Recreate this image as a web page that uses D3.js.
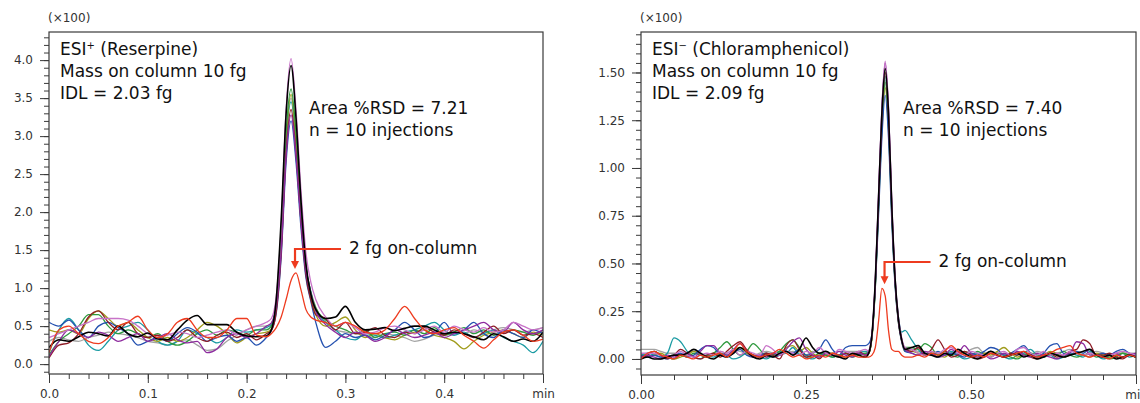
<!DOCTYPE html>
<html><head><meta charset="utf-8">
<script src="https://cdn.jsdelivr.net/npm/d3@7"></script>
<style>body{margin:0;background:#fff} svg{display:block} text{font-family:"DejaVu Sans",sans-serif}</style>
</head><body><svg id="c" width="1140" height="403"></svg>
<script>
// ---------- ESI+ (Reserpine) panel data ----------
const timePos = [0,.01,.02,.03,.04,.05,.06,.07,.08,.09,.10,.11,.12,.13,.14,.15,.16,.17,.18,.19,.20,.21,.22,
 .225,.23,.235,.24,.245,.25,.255,.26,.265,.27,
 .28,.29,.30,.31,.32,.33,.34,.35,.36,.37,.38,.39,.40,.41,.42,.43,.44,.45,.46,.47,.48,.49,.50];
const posGray = [0.30,0.35,0.32,0.30,0.35,0.38,0.42,0.40,0.38,0.35,0.30,0.28,0.25,0.30,0.32,0.25,0.18,0.20,0.30,0.38,0.45,0.50,0.50,
 0.54,0.79,1.58,2.92,3.50,2.92,2.00,1.29,0.96,0.75,
 0.55,0.45,0.42,0.40,0.38,0.35,0.40,0.38,0.35,0.30,0.33,0.38,0.40,0.42,0.40,0.45,0.42,0.45,0.48,0.45,0.42,0.45,0.48];
const posTeal = [0.15,0.45,0.60,0.45,0.25,0.18,0.30,0.45,0.50,0.55,0.45,0.30,0.25,0.30,0.45,0.40,0.35,0.28,0.35,0.45,0.42,0.45,0.48,
 0.52,0.78,1.57,2.94,3.45,2.94,2.00,1.28,0.95,0.70,
 0.55,0.45,0.35,0.32,0.40,0.38,0.35,0.38,0.42,0.45,0.50,0.55,0.45,0.38,0.42,0.35,0.40,0.45,0.35,0.30,0.25,0.15,0.30];
const posOlive = [0.45,0.42,0.45,0.40,0.60,0.70,0.60,0.50,0.55,0.45,0.35,0.30,0.35,0.30,0.35,0.45,0.55,0.50,0.40,0.28,0.35,0.40,0.42,
 0.46,0.72,1.55,2.94,3.55,2.94,1.98,1.25,0.90,0.65,
 0.50,0.55,0.62,0.45,0.35,0.40,0.35,0.32,0.38,0.42,0.45,0.38,0.35,0.30,0.20,0.30,0.38,0.42,0.45,0.40,0.35,0.42,0.38];
const posGreen = [0.12,0.30,0.40,0.50,0.65,0.65,0.50,0.40,0.45,0.40,0.35,0.40,0.30,0.25,0.30,0.40,0.45,0.38,0.45,0.42,0.38,0.45,0.45,
 0.50,0.76,1.61,3.04,3.62,3.04,2.06,1.30,0.94,0.74,
 0.58,0.50,0.45,0.40,0.45,0.35,0.40,0.42,0.38,0.45,0.40,0.48,0.38,0.42,0.48,0.40,0.45,0.38,0.42,0.45,0.42,0.38,0.45];
const posBlue = [0.55,0.50,0.58,0.45,0.35,0.50,0.55,0.48,0.40,0.25,0.30,0.35,0.30,0.40,0.48,0.42,0.30,0.35,0.38,0.30,0.35,0.25,0.35,
 0.44,0.67,1.41,2.66,3.20,2.66,1.80,1.14,0.83,0.55,
 0.22,0.30,0.40,0.35,0.38,0.32,0.38,0.45,0.55,0.45,0.35,0.40,0.55,0.40,0.45,0.55,0.40,0.35,0.45,0.40,0.35,0.45,0.40];
const posMaroon = [0.08,0.25,0.28,0.40,0.62,0.70,0.55,0.45,0.55,0.40,0.35,0.38,0.30,0.35,0.45,0.35,0.30,0.38,0.42,0.35,0.40,0.32,0.40,
 0.44,0.69,1.46,2.78,3.35,2.78,1.88,1.18,0.85,0.65,
 0.60,0.45,0.55,0.40,0.42,0.48,0.38,0.35,0.42,0.40,0.48,0.42,0.38,0.45,0.40,0.35,0.42,0.50,0.40,0.45,0.38,0.40,0.35];
const posPurple = [0.10,0.30,0.45,0.40,0.35,0.42,0.38,0.30,0.35,0.40,0.30,0.35,0.40,0.32,0.28,0.30,0.15,0.20,0.35,0.40,0.35,0.40,0.50,
 0.54,0.77,1.50,2.74,3.28,2.74,1.89,1.23,0.93,0.70,
 0.52,0.42,0.35,0.42,0.38,0.30,0.35,0.45,0.40,0.35,0.38,0.42,0.35,0.40,0.45,0.50,0.55,0.45,0.42,0.55,0.45,0.40,0.45];
const posOrchid = [0.35,0.40,0.45,0.50,0.55,0.60,0.60,0.60,0.58,0.50,0.40,0.35,0.38,0.42,0.40,0.35,0.38,0.42,0.45,0.40,0.45,0.50,0.55,
 0.60,0.89,1.80,3.35,4.02,3.35,2.29,1.47,1.08,0.85,
 0.62,0.50,0.55,0.48,0.40,0.42,0.48,0.50,0.45,0.40,0.45,0.50,0.42,0.50,0.45,0.42,0.48,0.42,0.45,0.55,0.50,0.45,0.48];
const posBlack = [0.22,0.32,0.30,0.36,0.42,0.40,0.37,0.50,0.40,0.36,0.41,0.33,0.32,0.45,0.58,0.64,0.52,0.52,0.52,0.42,0.37,0.36,0.37,
 0.45,0.85,1.90,3.30,3.93,3.24,2.16,1.32,0.92,0.72,
 0.60,0.62,0.76,0.55,0.45,0.46,0.48,0.44,0.47,0.50,0.50,0.45,0.40,0.42,0.40,0.36,0.32,0.40,0.36,0.30,0.33,0.30,0.42];
const posRed2fg = [0.15,0.45,0.50,0.40,0.30,0.27,0.35,0.50,0.55,0.63,0.45,0.35,0.40,0.55,0.60,0.45,0.35,0.35,0.45,0.60,0.60,0.38,0.36,
 0.40,0.48,0.62,0.85,1.10,1.20,0.98,0.72,0.62,0.58,
 0.55,0.50,0.55,0.50,0.42,0.40,0.45,0.60,0.76,0.60,0.45,0.40,0.45,0.48,0.38,0.30,0.21,0.32,0.42,0.45,0.38,0.30,0.33];

// ---------- ESI- (Chloramphenicol) panel data ----------
const timeNeg = [0,.01,.02,.03,.04,.05,.06,.07,.08,.09,.10,.11,.12,.13,.14,.15,.16,.17,.18,.19,.20,.21,.22,.23,.24,.25,.26,.27,.28,.29,.30,.31,.32,.33,.34,
 .345,.35,.355,.36,.365,.37,.375,.38,.385,.39,.395,.40,
 .41,.42,.43,.44,.45,.46,.47,.48,.49,.50,.51,.52,.53,.54,.55,.56,.57,.58,.59,.60,.61,.62,.63,.64,.65,.66,.67,.68,.69,.70,.71,.72,.73,.74,.75];
const negGray = [0.05,0.05,0.05,0.04,0.03,0.03,0.02,0.03,0.04,0.03,0.02,0.03,0.04,0.03,0.05,0.04,0.03,0.02,0.03,0.04,0.03,0.02,0.03,0.04,0.03,0.02,0.04,0.03,0.04,0.03,0.04,0.04,0.04,0.04,0.04,
 0.04,0.12,0.39,0.81,1.23,1.46,1.23,0.77,0.40,0.20,0.10,0.05,
 0.05,0.04,0.03,0.04,0.03,0.02,0.03,0.04,0.03,0.05,0.06,0.03,0.04,0.03,0.02,0.03,0.04,0.03,0.02,0.04,0.03,0.02,0.03,0.04,0.05,0.03,0.02,0.03,0.04,0.03,0.02,0.03,0.04,0.03,0.03];
const negTeal = [0.02,0.03,0.02,0.01,0.03,0.11,0.09,0.04,0.01,0.00,0.02,0.01,0.03,0.02,0.00,0.01,0.03,0.02,0.01,0.00,0.02,0.04,0.03,0.06,0.02,0.01,0.00,0.02,0.03,0.01,0.02,0.03,0.02,0.03,0.04,
 0.03,0.12,0.39,0.82,1.25,1.48,1.25,0.78,0.41,0.22,0.14,0.15,
 0.10,0.05,0.02,0.03,0.01,0.02,0.04,0.02,0.00,0.01,0.03,0.02,0.04,0.02,0.01,0.00,0.02,0.03,0.05,0.02,0.01,0.02,0.00,0.01,0.03,0.02,0.01,0.04,0.02,0.00,0.01,0.02,0.03,0.01,0.02];
const negOlive = [0.02,0.01,0.02,0.03,0.01,0.00,0.01,0.02,0.04,0.02,0.01,0.03,0.02,0.01,0.04,0.06,0.03,0.01,0.02,0.03,0.01,0.02,0.06,0.07,0.04,0.06,0.03,0.01,0.02,0.03,0.02,0.01,0.02,0.03,0.02,
 0.03,0.11,0.37,0.79,1.20,1.42,1.20,0.75,0.39,0.19,0.09,0.04,
 0.04,0.03,0.02,0.04,0.02,0.01,0.03,0.02,0.04,0.02,0.01,0.03,0.02,0.04,0.06,0.03,0.01,0.02,0.03,0.01,0.02,0.04,0.03,0.01,0.02,0.03,0.02,0.01,0.03,0.02,0.01,0.02,0.03,0.02,0.01];
const negGreen = [0.01,0.03,0.04,0.02,0.01,0.00,0.02,0.01,0.03,0.02,0.01,0.03,0.06,0.09,0.05,0.02,0.04,0.08,0.05,0.01,0.02,0.04,0.08,0.10,0.06,0.02,0.01,0.03,0.02,0.01,0.02,0.03,0.01,0.02,0.03,
 0.03,0.12,0.38,0.80,1.22,1.45,1.22,0.76,0.40,0.20,0.10,0.06,
 0.06,0.05,0.08,0.06,0.02,0.04,0.02,0.01,0.03,0.02,0.04,0.02,0.01,0.03,0.02,0.01,0.00,0.02,0.03,0.02,0.01,0.03,0.02,0.04,0.02,0.01,0.02,0.03,0.01,0.02,0.00,0.01,0.03,0.02,0.01];
const negBlue = [0.02,0.01,0.02,0.01,0.00,0.02,0.03,0.01,0.02,0.05,0.07,0.06,0.02,0.01,0.03,0.05,0.02,0.01,0.02,0.03,0.01,0.02,0.04,0.03,0.05,0.02,0.03,0.05,0.10,0.05,0.02,0.06,0.07,0.07,0.07,
 0.08,0.13,0.37,0.76,1.16,1.38,1.16,0.72,0.38,0.19,0.09,0.04,
 0.03,0.02,0.03,0.02,0.04,0.02,0.03,0.02,0.01,0.03,0.02,0.04,0.06,0.05,0.02,0.03,0.05,0.07,0.03,0.01,0.03,0.07,0.08,0.03,0.02,0.04,0.03,0.05,0.02,0.03,0.02,0.04,0.05,0.03,0.02];
const negMaroon = [0.00,0.02,0.04,0.02,0.00,0.02,0.05,0.03,0.01,0.00,0.02,0.03,0.01,0.04,0.07,0.09,0.05,0.02,0.01,0.03,0.02,0.00,0.07,0.10,0.05,0.01,0.02,0.00,0.03,0.02,0.01,0.03,0.02,0.04,0.02,
 0.03,0.12,0.40,0.83,1.27,1.50,1.27,0.79,0.41,0.20,0.10,0.05,
 0.04,0.06,0.02,0.05,0.10,0.05,0.01,0.02,0.04,0.02,0.00,0.01,0.03,0.02,0.01,0.03,0.02,0.04,0.01,0.00,0.02,0.03,0.01,0.02,0.04,0.05,0.10,0.08,0.02,0.02,0.03,0.01,0.00,0.02,0.01];
const negPurple = [0.01,0.02,0.01,0.00,0.02,0.01,0.02,0.03,0.01,0.04,0.07,0.07,0.03,0.02,0.05,0.08,0.04,0.01,0.02,0.01,0.03,0.02,0.05,0.09,0.11,0.05,0.02,0.01,0.03,0.02,0.04,0.02,0.01,0.03,0.02,
 0.04,0.13,0.41,0.86,1.31,1.55,1.31,0.81,0.42,0.21,0.10,0.05,
 0.03,0.02,0.04,0.03,0.01,0.02,0.05,0.03,0.07,0.03,0.01,0.02,0.00,0.01,0.03,0.02,0.04,0.02,0.01,0.03,0.02,0.01,0.00,0.02,0.03,0.09,0.08,0.02,0.02,0.01,0.02,0.03,0.01,0.02,0.03];
const negOrchid = [0.03,0.03,0.03,0.02,0.01,0.02,0.04,0.02,0.01,0.02,0.03,0.02,0.04,0.03,0.05,0.02,0.04,0.03,0.02,0.07,0.05,0.02,0.04,0.03,0.02,0.04,0.03,0.06,0.03,0.02,0.05,0.04,0.03,0.04,0.05,
 0.04,0.13,0.42,0.87,1.32,1.56,1.32,0.82,0.43,0.22,0.11,0.06,
 0.05,0.03,0.02,0.04,0.03,0.05,0.06,0.03,0.02,0.04,0.03,0.02,0.01,0.03,0.04,0.02,0.05,0.06,0.03,0.02,0.04,0.02,0.03,0.02,0.04,0.03,0.02,0.03,0.02,0.01,0.02,0.03,0.04,0.03,0.02];
const negBlack = [0.00,0.01,0.00,0.00,0.01,0.02,0.02,0.03,0.05,0.03,0.01,0.00,0.02,0.01,0.03,0.06,0.04,0.01,0.00,0.02,0.01,0.03,0.04,0.02,0.05,0.11,0.06,0.03,0.04,0.02,0.01,0.00,0.03,0.02,0.01,
 0.03,0.13,0.41,0.85,1.29,1.52,1.29,0.80,0.42,0.21,0.10,0.05,
 0.06,0.07,0.03,0.02,0.01,0.03,0.02,0.05,0.03,0.01,0.00,0.02,0.04,0.02,0.01,0.02,0.03,0.01,0.02,0.00,0.01,0.03,0.02,0.01,0.02,0.03,0.04,0.05,0.02,0.01,0.02,0.00,0.01,0.02,0.01];
const negRed2fg = [0.00,0.03,0.04,0.02,0.01,0.00,0.02,0.01,0.00,0.02,0.01,0.02,0.03,0.01,0.04,0.08,0.04,0.02,0.01,0.02,0.03,0.05,0.03,0.01,0.02,0.00,0.01,0.02,0.01,0.03,0.02,0.01,0.02,0.01,0.01,
 0.01,0.02,0.06,0.20,0.37,0.33,0.15,0.05,0.04,0.04,0.02,0.01,
 0.01,0.02,0.01,0.03,0.02,0.04,0.07,0.04,0.02,0.01,0.02,0.01,0.03,0.02,0.01,0.02,0.03,0.04,0.02,0.01,0.02,0.03,0.05,0.06,0.07,0.03,0.02,0.01,0.02,0.01,0.00,0.02,0.01,0.02,0.01];

// ---------- ticks & labels ----------
const posYMajor = [0,0.5,1,1.5,2,2.5,3,3.5,4];
const posXMajor = [0,0.1,0.2,0.3,0.4,0.5];
const negYMajor = [0,0.25,0.5,0.75,1,1.25,1.5];
const negXMajor = [0,0.25,0.5,0.75];
const posLabels = ["ESI+ (Reserpine)","Mass on column 10 fg","IDL = 2.03 fg"];
const negLabels = ["ESI\u2212 (Chloramphenicol)","Mass on column 10 fg","IDL = 2.09 fg"];
const posRsd = ["Area %RSD = 7.21","n = 10 injections"];
const negRsd = ["Area %RSD = 7.40","n = 10 injections"];
const note2fg = "2 fg on-column";
const posPeak2fg = [0.249, 1.2];
const negPeak2fg = [0.369, 0.37];

const traceColors = {gray:"#a3a3a3",teal:"#1b9ba3",olive:"#a09c1c",green:"#2f9a3e",blue:"#2451b0",
  maroon:"#8e1c26",purple:"#8d2b9e",orchid:"#c873c8",black:"#000000",red:"#ee3b1f"};

const svg = d3.select("#c");
svg.append("rect").attr("width",1140).attr("height",403).attr("fill","#fff");

function panel(o){
  const g = svg.append("g");
  const x = d3.scaleLinear().domain(o.xDom).range([o.left,o.right]);
  const y = d3.scaleLinear().domain(o.yDom).range([o.bottom,o.top]);
  const id = "clip"+o.key;
  svg.append("clipPath").attr("id",id).append("rect")
    .attr("x",o.left).attr("y",o.top).attr("width",o.right-o.left).attr("height",o.bottom-o.top);

  const axCol = "#3a3a3a";
  const yMinor = g.append("g").attr("transform",`translate(${o.left},0)`)
    .call(d3.axisLeft(y).tickValues(o.yMinor).tickSize(5).tickFormat(""));
  const xMinor = g.append("g").attr("transform",`translate(0,${o.bottom})`)
    .call(d3.axisBottom(x).tickValues(o.xMinor).tickSize(5).tickFormat(""));
  const yMaj = g.append("g").attr("transform",`translate(${o.left},0)`)
    .call(d3.axisLeft(y).tickValues(o.yMajor).tickSize(9).tickPadding(7).tickFormat(o.yFmt));
  const xMaj = g.append("g").attr("transform",`translate(0,${o.bottom})`)
    .call(d3.axisBottom(x).tickValues(o.xMajor).tickSize(9).tickPadding(6)
      .tickFormat((d,i)=> i===o.xMajor.length-1 ? "min" : o.xFmt(d)));
  [yMinor,xMinor,yMaj,xMaj].forEach(a=>{
    a.select(".domain").remove();
    a.selectAll("line").attr("stroke",axCol).attr("stroke-width",1);
    a.selectAll("text").attr("fill","#333").style("font-size","12px").style("font-family","'DejaVu Sans',sans-serif");
  });

  // traces
  const line = d3.line().x((d,i)=>x(o.time[i])).y(d=>y(d)).curve(d3.curveMonotoneX);
  const lg = g.append("g").attr("clip-path",`url(#${id})`);
  o.series.forEach(s=>{
    lg.append("path").attr("d",line(s.values)).attr("fill","none")
      .attr("stroke",s.color).attr("stroke-width",s.w||1.3).attr("stroke-linejoin","round");
  });

  // frame
  g.append("rect").attr("x",o.left).attr("y",o.top).attr("width",o.right-o.left).attr("height",o.bottom-o.top)
    .attr("fill","none").attr("stroke",axCol).attr("stroke-width",1.2);

  // (x100)
  g.append("text").attr("x",o.left-1).attr("y",22).attr("fill","#333").style("font-size","12px").text("(\u00d7100)");

  // title block
  const tb = g.append("g").attr("fill","#111").style("font-size","17px");
  o.labels.forEach((t,i)=>{
    const tx = tb.append("text").attr("x",o.left+11).attr("y",55+i*22);
    if(i===0){
      const parts = t.split(" ");
      const head = parts[0];
      tx.append("tspan").text(head.slice(0,3));
      tx.append("tspan").attr("dy",-6).style("font-size","10px").text(head.slice(3));
      tx.append("tspan").attr("dy",6).text(" "+parts.slice(1).join(" "));
    } else tx.text(t);
  });
  o.rsd.forEach((t,i)=>{
    tb.append("text").attr("x",o.rsdX).attr("y",114+i*21.5).text(t);
  });

  // 2 fg arrow
  const ax = x(o.peak2[0]);
  const tipY = y(o.peak2[1]) - 4;
  const hy = o.arrowY;
  g.append("path").attr("d",`M${ax+46},${hy}H${ax}V${tipY-7}`).attr("fill","none")
    .attr("stroke",traceColors.red).attr("stroke-width",2.2);
  g.append("path").attr("d",`M${ax-4},${tipY-8}L${ax+4},${tipY-8}L${ax},${tipY}Z`).attr("fill",traceColors.red);
  tb.append("text").attr("x",ax+54).attr("y",hy+5).text(note2fg);
}

function mk(arrs){
  return [
    {color:traceColors.gray,values:arrs[0]},{color:traceColors.teal,values:arrs[1]},
    {color:traceColors.olive,values:arrs[2]},{color:traceColors.green,values:arrs[3]},
    {color:traceColors.blue,values:arrs[4]},{color:traceColors.maroon,values:arrs[5]},
    {color:traceColors.purple,values:arrs[6]},{color:traceColors.orchid,values:arrs[7]},
    {color:traceColors.black,values:arrs[8],w:1.6},{color:traceColors.red,values:arrs[9]}];
}

panel({key:"pos",left:49,right:543,top:32,bottom:374,xDom:[0,0.5],yDom:[-0.13,4.37],
  time:timePos,
  series:mk([posGray,posTeal,posOlive,posGreen,posBlue,posMaroon,posPurple,posOrchid,posBlack,posRed2fg]),
  yMajor:posYMajor, yMinor:d3.range(-1,44).map(v=>v/10), yFmt:d3.format(".1f"),
  xMajor:posXMajor, xMinor:d3.range(0,26).map(v=>v/50), xFmt:d3.format(".1f"),
  labels:posLabels, rsd:posRsd, rsdX:309, peak2:posPeak2fg, arrowY:249});

panel({key:"neg",left:641,right:1136,top:32,bottom:375,xDom:[0,0.75],yDom:[-0.084,1.712],
  time:timeNeg,
  series:mk([negGray,negTeal,negOlive,negGreen,negBlue,negMaroon,negPurple,negOrchid,negBlack,negRed2fg]),
  yMajor:negYMajor, yMinor:d3.range(-1,35).map(v=>v/20), yFmt:d3.format(".2f"),
  xMajor:negXMajor, xMinor:d3.range(0,16).map(v=>v/20), xFmt:d3.format(".2f"),
  labels:negLabels, rsd:negRsd, rsdX:903, peak2:negPeak2fg, arrowY:262});
</script></body></html>
